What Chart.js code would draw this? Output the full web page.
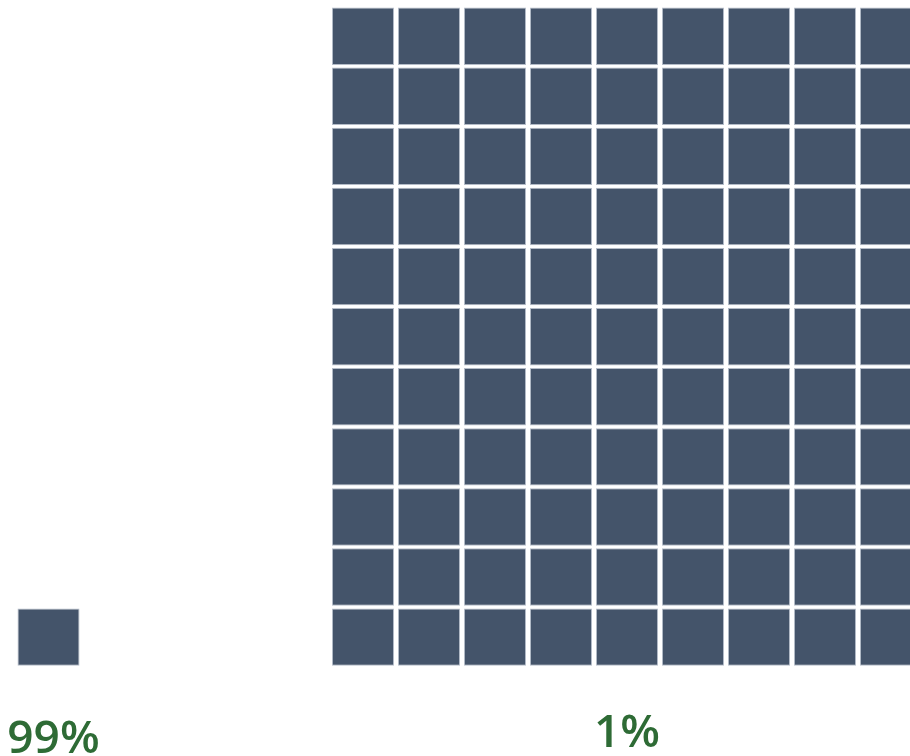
<!DOCTYPE html>
<html>
<head>
<meta charset="utf-8">
<title>Waffle</title>
<script src="https://cdn.jsdelivr.net/npm/chart.js@4.4.1/dist/chart.umd.min.js"></script>
<style>
    html, body { margin: 0; padding: 0; background: #ffffff; }
    #wrap { width: 910px; height: 756px; position: relative; }
</style>
</head>
<body>
<div id="wrap"><canvas id="waffleChart"></canvas></div>
<script>
// Chart data
const labels = ['99%', '1%'];
const cellCounts = [1, 99];
const groupColumns = [1, 9];

// Layout (in cell units: 1 x-unit = one column, 1 y-unit = one row)
const groupStartX = [0.235, 5];
const labelX = [0.81, 9.5];
const labelY = [-1.45, -1.35];
const cellFill = '#44546a';
const cellEdge = '#b4bcc8';
const labelColor = '#2e6b35';

// Build one floating bar per cell, filled bottom row first
const cells = [];
cellCounts.forEach((count, g) => {
    for (let i = 0; i < count; i++) {
        const col = i % groupColumns[g];
        const row = Math.floor(i / groupColumns[g]);
        cells.push({ x: groupStartX[g] + col + 0.5, y: [row, row + 0.955] });
    }
});

// Draws the percentage labels through the chart's own scales
const groupLabels = {
    id: 'groupLabels',
    afterDatasetsDraw(chart) {
        const { ctx, scales } = chart;
        ctx.save();
        ctx.fillStyle = labelColor;
        ctx.font = '600 46px "Open Sans", "Noto Sans", sans-serif';
        ctx.textAlign = 'center';
        ctx.textBaseline = 'alphabetic';
        labels.forEach((text, i) => {
            ctx.fillText(text, scales.x.getPixelForValue(labelX[i]), scales.y.getPixelForValue(labelY[i]));
        });
        ctx.restore();
    }
};

document.addEventListener('DOMContentLoaded', function() {
    const ctx = document.getElementById('waffleChart').getContext('2d');
    new Chart(ctx, {
        type: 'bar',
        data: {
            datasets: [{
                data: cells,
                backgroundColor: cellFill,
                borderColor: cellEdge,
                borderWidth: 1,
                borderSkipped: false,
                categoryPercentage: 1,
                barPercentage: 0.94
            }]
        },
        options: {
            responsive: true,
            maintainAspectRatio: false,
            animation: false,
            devicePixelRatio: 1,
            layout: { padding: 0 },
            plugins: {
                legend: { display: false },
                tooltip: { enabled: false }
            },
            scales: {
                x: { type: 'linear', min: 0, max: 910 / 66, offset: false, display: false },
                y: { type: 'linear', min: -1.5, max: 11.08, display: false }
            }
        },
        plugins: [groupLabels]
    });
});
</script>
</body>
</html>
